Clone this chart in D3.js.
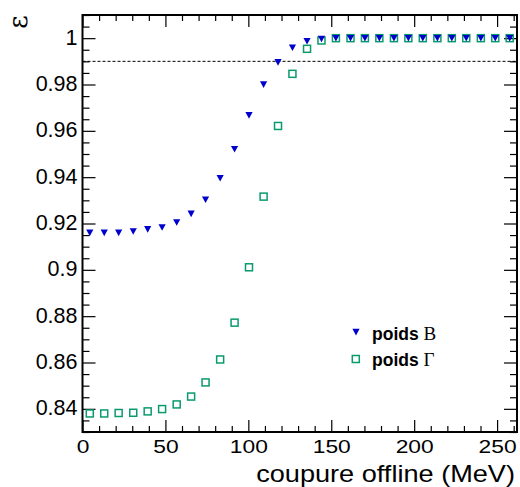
<!DOCTYPE html>
<html><head><meta charset="utf-8">
<script src="https://cdn.jsdelivr.net/npm/d3@7"></script>
<style>html,body{margin:0;padding:0;background:#fff;}svg{display:block;}</style>
</head><body>
<svg id="c" width="520" height="487"></svg>
<script>
// ---- data ----
const cutValues = [4.4, 13.1, 21.8, 30.6, 39.3, 48.0, 56.8, 65.5, 74.2, 83.0, 91.7, 100.4, 109.2, 117.9, 126.6,
  135.4, 144.1, 152.8, 161.6, 170.3, 179.0, 187.8, 196.5, 205.2, 214.0, 222.7, 231.4, 240.2, 248.9, 257.6];
const effBeta = [0.916, 0.916, 0.916, 0.9166, 0.9175, 0.9183, 0.9205, 0.9242, 0.9303, 0.9396, 0.9521, 0.9667,
  0.980, 0.9896, 0.9959, 0.9987, 0.9997, 1.0, 1.0, 1.0, 1.0, 1.0, 1.0, 1.0, 1.0, 1.0, 1.0, 1.0, 1.0, 1.0];
const effGamma = [0.838, 0.838, 0.8382, 0.8383, 0.8389, 0.8399, 0.8419, 0.8453, 0.8514, 0.8613, 0.8772, 0.9011,
  0.9316, 0.9621, 0.9846, 0.9954, 0.999, 1.0, 1.0, 1.0, 1.0, 1.0, 1.0, 1.0, 1.0, 1.0, 1.0, 1.0, 1.0, 1.0];
const xTickValues = [0, 50, 100, 150, 200, 250];
const xTickLabels = ["0", "50", "100", "150", "200", "250"];
const yTickValues = [0.84, 0.86, 0.88, 0.90, 0.92, 0.94, 0.96, 0.98, 1.00];
const yTickLabels = ["0.84", "0.86", "0.88", "0.9", "0.92", "0.94", "0.96", "0.98", "1"];
const thresholdValue = 0.99;
const xTitle = "coupure offline (MeV)";
const yTitle = "ε";
const legendNames = ["B", "Γ"];

// ---- layout ----
const L = 82.5, R = 517, T = 15, B = 432;
const svg = d3.select("#c");
const x = d3.scaleLinear().domain([0, 262]).range([L, R]);
const y = d3.scaleLinear().domain([0.83, 1.01]).range([B, T]);
const blue = "#0000cc", green = "#0a9a6e";

const xMinor = d3.range(0, 263, 10).filter(v => v % 50 !== 0);
const yMinor = d3.range(0, 37).map(i => +(0.83 + i * 0.005).toFixed(3)).filter(v => !yTickValues.some(t => Math.abs(t - v) < 1e-6));

function styleAxis(g) {
  g.select(".domain").remove();
  g.selectAll("line").attr("stroke", "#000").attr("stroke-width", 1.2);
}

// bottom axis (major with labels)
svg.append("g").attr("transform", `translate(0,${B})`)
  .call(d3.axisBottom(x).tickValues(xTickValues).tickFormat((d, i) => xTickLabels[i]).tickSize(-12).tickPadding(8))
  .call(styleAxis)
  .call(g => g.selectAll("text").attr("font-family", "Liberation Sans, Arial, sans-serif").attr("font-size", 19)
    .attr("fill", "#000").attr("transform", "scale(1.2,1)"));
svg.append("g").attr("transform", `translate(0,${B})`)
  .call(d3.axisBottom(x).tickValues(xMinor).tickFormat("").tickSize(-6)).call(styleAxis);
// top axis
svg.append("g").attr("transform", `translate(0,${T})`)
  .call(d3.axisTop(x).tickValues(xTickValues).tickFormat("").tickSize(-12)).call(styleAxis);
svg.append("g").attr("transform", `translate(0,${T})`)
  .call(d3.axisTop(x).tickValues(xMinor).tickFormat("").tickSize(-6)).call(styleAxis);
// left axis
svg.append("g").attr("transform", `translate(${L},0)`)
  .call(d3.axisLeft(y).tickValues(yTickValues).tickFormat((d, i) => yTickLabels[i]).tickSize(-13).tickPadding(5))
  .call(styleAxis)
  .call(g => g.selectAll("text").attr("font-family", "Liberation Sans, Arial, sans-serif").attr("font-size", 21.5)
    .attr("fill", "#000").attr("dy", "0.28em"));
svg.append("g").attr("transform", `translate(${L},0)`)
  .call(d3.axisLeft(y).tickValues(yMinor).tickFormat("").tickSize(-7)).call(styleAxis);
// right axis
svg.append("g").attr("transform", `translate(${R},0)`)
  .call(d3.axisRight(y).tickValues(yTickValues).tickFormat("").tickSize(-13)).call(styleAxis);
svg.append("g").attr("transform", `translate(${R},0)`)
  .call(d3.axisRight(y).tickValues(yMinor).tickFormat("").tickSize(-7)).call(styleAxis);

// frame
svg.append("rect").attr("x", L).attr("y", T).attr("width", R - L).attr("height", B - T)
  .attr("fill", "none").attr("stroke", "#000").attr("stroke-width", 2);

// threshold dashed line
svg.append("line").attr("x1", L).attr("x2", R).attr("y1", y(thresholdValue)).attr("y2", y(thresholdValue))
  .attr("stroke", "#000").attr("stroke-width", 1).attr("stroke-dasharray", "3,2");

// markers
const triPath = "M-3.6,-3.2L3.6,-3.2L0,3.4Z";
function square(sel, cx, cy) {
  sel.append("rect").attr("x", cx - 3.5).attr("y", cy - 3.5).attr("width", 7).attr("height", 7)
    .attr("fill", "none").attr("stroke", green).attr("stroke-width", 1.5);
}
const gG = svg.append("g");
cutValues.forEach((c, i) => square(gG, x(c), y(effGamma[i])));
svg.append("g").selectAll("path").data(cutValues).join("path")
  .attr("d", triPath).attr("fill", blue)
  .attr("transform", (d, i) => `translate(${x(d)},${y(effBeta[i])})`);

// legend
svg.append("path").attr("d", triPath).attr("fill", blue).attr("transform", "translate(356,332)");
square(svg, 355.8, 359);
[[340, legendNames[0]], [366, legendNames[1]]].forEach(([yy, nm]) => {
  const t = svg.append("text").attr("x", 372).attr("y", yy).attr("fill", "#000");
  t.append("tspan").attr("font-family", "Liberation Sans, Arial, sans-serif").attr("font-weight", "bold")
    .attr("font-size", 17.5).text("poids ");
  t.append("tspan").attr("font-family", "Liberation Serif, Times New Roman, serif").attr("font-size", 19).text(nm);
});

// axis titles
svg.append("text").attr("text-anchor", "end").attr("font-family", "Liberation Sans, Arial, sans-serif")
  .attr("font-size", 23).attr("fill", "#000")
  .attr("transform", "translate(515,482) scale(1.18,1)").text(xTitle);
svg.append("text").attr("text-anchor", "middle").attr("font-family", "DejaVu Serif, Liberation Serif, serif")
  .attr("font-size", 26).attr("fill", "#000")
  .attr("transform", "translate(27,22) rotate(-90)").text(yTitle);
</script>
</body></html>
